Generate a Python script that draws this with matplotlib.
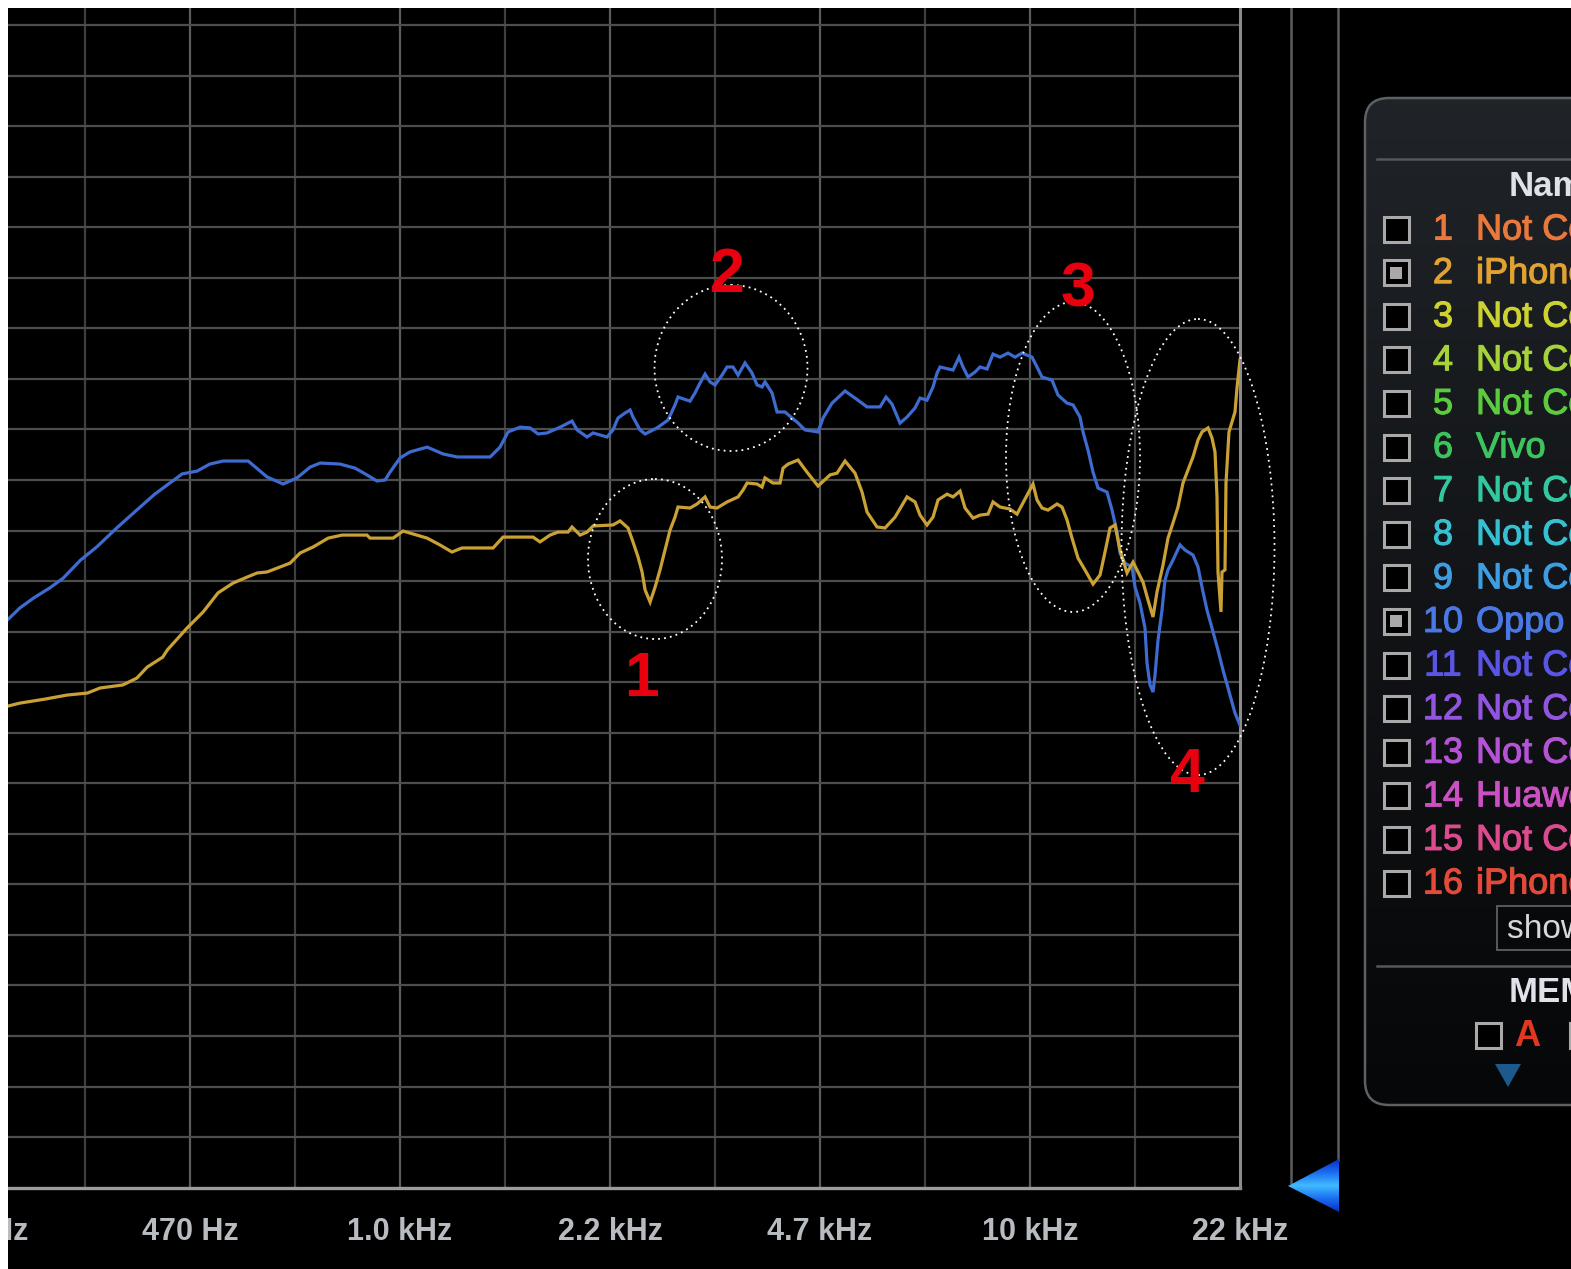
import numpy as np
import matplotlib
matplotlib.use("Agg")
import matplotlib.pyplot as plt
import matplotlib.patheffects as pe
from matplotlib import font_manager
from matplotlib.patches import Rectangle, Ellipse, Polygon, FancyBboxPatch
from matplotlib.colors import LinearSegmentedColormap
from matplotlib.transforms import blended_transform_factory

W, H = 1571, 1269

# measured responses: (frequency in Hz, level in dB)
oppo_points = [
    (239, -23.50), (249, -23.07), (262, -22.67), (278, -22.27), (292, -21.88),
    (311, -21.17), (330, -20.65), (355, -19.90), (382, -19.19), (408, -18.56),
    (431, -18.12), (451, -17.76), (476, -17.65), (499, -17.37), (524, -17.25),
    (574, -17.25), (615, -17.88), (652, -18.16), (686, -17.92), (720, -17.49),
    (747, -17.33), (803, -17.37), (848, -17.53), (886, -17.80), (919, -18.04),
    (947, -18.00), (964, -17.69), (1000, -17.13), (1037, -16.89), (1104, -16.70),
    (1170, -16.97), (1232, -17.09), (1390, -17.09), (1441, -16.70), (1484, -16.10),
    (1551, -15.91), (1608, -15.94), (1656, -16.18), (1711, -16.14), (1795, -15.91),
    (1875, -15.67), (1910, -16.02), (1981, -16.30), (2025, -16.14), (2131, -16.30),
    (2178, -16.02), (2218, -15.55), (2276, -15.35), (2318, -15.23), (2343, -15.51),
    (2404, -16.02), (2449, -16.18), (2558, -15.94), (2663, -15.63), (2732, -15.03),
    (2762, -14.72), (2886, -14.88), (2939, -14.56), (2994, -14.16), (3049, -13.81),
    (3105, -14.12), (3162, -14.24), (3244, -13.85), (3304, -13.53), (3377, -13.53),
    (3440, -13.85), (3529, -13.37), (3620, -13.77), (3687, -14.24), (3755, -14.32),
    (3796, -14.12), (3895, -14.56), (3967, -15.31), (4084, -15.31), (4190, -15.55),
    (4268, -15.71), (4394, -16.02), (4608, -16.10), (4693, -15.55), (4850, -14.96),
    (5086, -14.48), (5275, -14.76), (5512, -15.11), (5780, -15.11), (5908, -14.72),
    (6039, -15.00), (6218, -15.75), (6379, -15.51), (6569, -15.15), (6690, -14.76),
    (6863, -14.84), (7015, -14.32), (7119, -13.77), (7197, -13.53), (7547, -13.65),
    (7715, -13.14), (7828, -13.53), (7973, -13.93), (8179, -13.73), (8330, -13.53),
    (8546, -13.61), (8735, -13.02), (8962, -13.14), (9228, -12.98), (9467, -13.14),
    (9712, -12.98), (10073, -13.14), (10259, -13.53), (10448, -13.93), (10837, -14.05),
    (11077, -14.64), (11448, -14.96), (11702, -15.03), (12005, -15.51), (12138, -16.10),
    (12362, -16.82), (12590, -17.69), (12822, -18.32), (13251, -18.48), (13495, -19.19),
    (13744, -20.06), (13895, -20.89), (14151, -21.29), (14518, -21.44), (14678, -22.24),
    (14949, -22.87), (15224, -23.86), (15336, -25.24), (15505, -26.11), (15676, -26.39),
    (15791, -25.72), (15965, -24.33), (16200, -23.15), (16379, -21.96), (16559, -21.56),
    (16864, -21.17), (17301, -20.57), (17620, -20.77), (18143, -20.97), (18478, -21.44),
    (18750, -22.24), (19096, -23.15), (19448, -23.86), (19879, -24.73), (20246, -25.52),
    (20770, -26.51), (21153, -27.22), (21544, -27.70),
]

iphone_points = [
    (239, -26.94), (249, -26.83), (273, -26.67), (296, -26.51), (319, -26.43),
    (334, -26.23), (363, -26.11), (382, -25.84), (397, -25.40), (420, -25.01),
    (427, -24.73), (459, -23.86), (487, -23.22), (514, -22.47), (543, -22.08),
    (572, -21.84), (593, -21.68), (615, -21.64), (645, -21.44), (669, -21.29),
    (694, -20.89), (728, -20.65), (769, -20.30), (809, -20.18), (886, -20.18),
    (896, -20.30), (975, -20.30), (1011, -20.02), (1064, -20.18), (1104, -20.30),
    (1157, -20.57), (1209, -20.85), (1254, -20.69), (1405, -20.69), (1457, -20.26),
    (1626, -20.26), (1668, -20.45), (1730, -20.18), (1782, -20.06), (1848, -20.06),
    (1875, -19.86), (1931, -20.18), (1981, -20.06), (2025, -19.82), (2178, -19.78),
    (2235, -19.62), (2301, -19.90), (2343, -20.45), (2387, -21.05), (2422, -21.64),
    (2449, -22.35), (2494, -22.83), (2540, -22.24), (2586, -21.56), (2634, -20.77),
    (2683, -19.98), (2732, -19.47), (2762, -19.07), (2886, -19.11), (2961, -18.95),
    (3049, -18.67), (3105, -19.07), (3185, -19.11), (3304, -18.87), (3440, -18.67),
    (3503, -18.40), (3555, -18.12), (3687, -18.16), (3755, -18.28), (3796, -17.92),
    (3909, -18.12), (4010, -18.12), (4055, -17.53), (4130, -17.37), (4283, -17.21),
    (4426, -17.69), (4608, -18.24), (4814, -17.80), (4939, -17.73), (5086, -17.25),
    (5275, -17.73), (5412, -18.48), (5512, -19.27), (5717, -19.86), (5887, -19.90),
    (6106, -19.47), (6379, -18.67), (6569, -18.87), (6690, -19.39), (6863, -19.78),
    (7015, -19.47), (7145, -18.79), (7384, -18.56), (7547, -18.67), (7743, -18.44),
    (7886, -19.11), (8120, -19.51), (8330, -19.39), (8578, -19.35), (8735, -18.87),
    (8962, -19.07), (9295, -19.15), (9536, -19.35), (9819, -18.75), (10110, -18.16),
    (10259, -18.79), (10448, -19.11), (10680, -19.19), (11037, -18.95), (11241, -19.07),
    (11448, -19.58), (11659, -20.30), (11917, -21.09), (12226, -21.56), (12590, -22.12),
    (12916, -21.76), (13154, -20.85), (13397, -19.90), (13644, -19.78), (13895, -20.77),
    (14256, -21.68), (14572, -21.25), (14840, -21.64), (15113, -22.04), (15392, -22.75),
    (15676, -23.42), (15907, -22.43), (16259, -21.37), (16559, -20.30), (16864, -19.70),
    (17175, -19.07), (17492, -18.12), (17815, -17.61), (18143, -17.09), (18478, -16.42),
    (18750, -16.10), (19168, -15.94), (19448, -16.34), (19663, -16.89), (19807, -18.67),
    (19879, -21.64), (20098, -23.22), (20172, -21.64), (20394, -21.56), (20469, -18.12),
    (20694, -16.10), (21153, -15.31), (21308, -14.36), (21544, -13.25),
]

tick_freqs = [215.4, 464.2, 1000, 2154, 4642, 10000, 21544]
tick_labels = ["220 Hz", "470 Hz", "1.0 kHz", "2.2 kHz", "4.7 kHz", "10 kHz", "22 kHz"]

device_names = ["Not Connected", "iPhone", "Not Connected", "Not Connected",
                "Not Connected", "Vivo", "Not Connected", "Not Connected",
                "Not Connected", "Oppo", "Not Connected", "Not Connected",
                "Not Connected", "Huawei", "Not Connected", "iPhone"]
device_colors = ["#e8783c", "#e0a232", "#cdd233", "#a6d23a", "#5ccb3f", "#3cc45e",
                 "#33c8a2", "#36c0d2", "#3f9ee2", "#4a78e4", "#5a55e2", "#9255e0",
                 "#b453d6", "#cb50c2", "#dc4b8e", "#e24a3a"]
device_checked = [False, True, False, False, False, False, False, False,
                  False, True, False, False, False, False, False, False]

# dotted callouts: label, label position, ellipse centre and size (pixels)
callouts = [
    ("1", (642, 679), (655, 559), 134, 160),
    ("2", (727, 275), (731, 368), 153, 166),
    ("3", (1078, 290), (1073, 457), 134, 310),
    ("4", (1187, 776), (1198, 547), 153, 456),
]


def has_font(name):
    try:
        font_manager.findfont(name, fallback_to_default=False)
        return True
    except ValueError:
        return False


FAMILY = ["Liberation Sans", "DejaVu Sans"]
plt.rcParams["font.family"] = FAMILY

fig = plt.figure(figsize=(W / 100, H / 100), dpi=100, facecolor="black")

# plot area in pixels: x 8..1240, y 8..1187.7
ax = fig.add_axes([8 / W, (H - 1187.7) / H, (1240 - 8) / W, (1187.7 - 8) / H])
ax.set_zorder(1)
ax.set_facecolor("black")
ax.set_xscale("log")
ax.set_xlim(238.6, 21544)
ax.set_ylim(-46, 0.673)
for s in ax.spines.values():
    s.set_visible(False)
ax.tick_params(which="both", length=0, labelbottom=False, labelleft=False)
ax.set_xticks([], minor=True)

# overlay in pixel coordinates for the side panel and callouts
ov = fig.add_axes([0, 0, 1, 1])
ov.set_zorder(2)
ov.set_xlim(0, W)
ov.set_ylim(H, 0)
ov.axis("off")

# grid: six lines per decade, labelled every other one
for k in range(-3, 8):
    f = 1000 * 10 ** (k / 6)
    ax.axvline(f, color="#5c5c5c" if k % 2 == 0 else "#3f3f3f", lw=1.6, zorder=1)
for lev in np.arange(0, -45, -2):
    ax.axhline(lev, color="#4d4d4d", lw=1.6, zorder=1)
ax.axhline(-46, color="#9c9c9c", lw=2.4, zorder=2, clip_on=False)
ax.axvline(21544, color="#8c8c8c", lw=2.2, zorder=2, clip_on=False)

of, ol = np.array(oppo_points).T
jf, jl = np.array(iphone_points).T
ax.plot(of, ol, color="#3d6bd0", lw=2.3, zorder=3, solid_joinstyle="miter")
ax.plot(jf, jl, color="#caa134", lw=2.3, zorder=3, solid_joinstyle="miter")

trans = blended_transform_factory(ax.transData, ov.transData)
for f, lab in zip(tick_freqs, tick_labels):
    ax.text(f, 1232, lab, transform=trans, ha="center", va="center",
            color="#b8bcc1", fontsize=22, fontweight="bold", clip_on=False)

# callout ellipses and numbers
for lab, (tx, ty), (cx, cy), ew, eh in callouts:
    ov.add_patch(Ellipse((cx, cy), ew, eh, fill=False, ec="white", lw=1.3,
                         ls=(0, (1, 2.3)), zorder=5))
    ov.text(tx, ty, lab, ha="center", va="center", color="#e8000e",
            fontsize=45, fontweight="bold", zorder=6)

# slider track and marker right of the plot
ov.plot([1291, 1291], [8, 1183], color="#5c5c5c", lw=1.8, zorder=3)
ov.plot([1338, 1338], [8, 1160], color="#5c5c5c", lw=1.8, zorder=3)
tri = Polygon([(1288, 1186), (1339, 1159), (1339, 1212)], closed=True,
              fc="none", ec="none", zorder=4)
ov.add_patch(tri)
band = (1 - np.abs(np.linspace(-1, 1, 80))).reshape(-1, 1)
blue_cmap = LinearSegmentedColormap.from_list("marker", ["#0630c4", "#1a6cf0", "#3fb8ff"])
im = ov.imshow(band, extent=[1288, 1339, 1212, 1159], cmap=blue_cmap,
               aspect="auto", zorder=4, interpolation="bilinear")
im.set_clip_path(tri)

# device panel
panel = FancyBboxPatch((1365, 98), 500, 1007, boxstyle="round,pad=0,rounding_size=24",
                       fc="none", ec="#5d6164", lw=1.8, zorder=4)
ov.add_patch(panel)
shade = np.linspace(0, 1, 256).reshape(-1, 1)
panel_cmap = LinearSegmentedColormap.from_list("panel", ["#202428", "#121417", "#060708"])
pim = ov.imshow(shade, extent=[1365, 1865, 1105, 98], cmap=panel_cmap,
                aspect="auto", zorder=3, interpolation="bilinear")
pim.set_clip_path(panel)
ov.plot([1377, W], [159, 159], color="#54585b", lw=1.8, zorder=5)
ov.plot([1377, W], [966, 966], color="#54585b", lw=1.8, zorder=5)

ov.text(1509, 186, "Name", ha="left", va="center", color="#dfe2e6",
        fontsize=25, fontweight="bold", zorder=6)

row0, row_step = 229, 43.6
for i, (name, col, chk) in enumerate(zip(device_names, device_colors, device_checked)):
    y = row0 + i * row_step
    thick = [pe.withStroke(linewidth=0.8, foreground=col)]
    ov.add_patch(Rectangle((1384, y - 12.5), 25, 25, fc="black", ec="#a9a9a9",
                           lw=2.2, zorder=6))
    if chk:
        ov.add_patch(Rectangle((1390.5, y - 6), 12, 12, fc="#a9a9a9", ec="none", zorder=7))
    ov.text(1443, y + 1, str(i + 1), ha="center", va="center", color=col,
            fontsize=26, zorder=6, path_effects=thick)
    ov.text(1476, y + 1, name, ha="left", va="center", color=col, fontsize=26,
            zorder=6, path_effects=thick)

# show button and memory row
ov.add_patch(Rectangle((1497, 906), 200, 44, fc="#08090a", ec="#5a5a5a", lw=1.4, zorder=6))
ov.text(1507, 929, "show all", ha="left", va="center", color="#d6d8da",
        fontsize=24, zorder=7)
ov.text(1509, 993, "MEMORY", ha="left", va="center", color="#dfe2e6",
        fontsize=25, fontweight="bold", zorder=6)
ov.add_patch(Rectangle((1476, 1023), 25, 25, fc="black", ec="#a9a9a9", lw=2.2, zorder=6))
ov.text(1514, 1037, "A", ha="left", va="center", color="#e3381f", fontsize=26,
        fontweight="bold", zorder=6)
ov.add_patch(Rectangle((1570, 1023), 25, 25, fc="black", ec="#a9a9a9", lw=2.2, zorder=6))
ov.add_patch(Polygon([(1495, 1064), (1521, 1064), (1508, 1087)], closed=True,
                     fc="#1c5a8d", ec="none", zorder=6))

# white margin along top and left
ov.add_patch(Rectangle((0, 0), W, 8, fc="white", ec="none", zorder=20))
ov.add_patch(Rectangle((0, 0), 8, H, fc="white", ec="none", zorder=20))

ov.set_xlim(0, W)
ov.set_ylim(H, 0)

fig.savefig("out.png", dpi=100, facecolor=fig.get_facecolor())
